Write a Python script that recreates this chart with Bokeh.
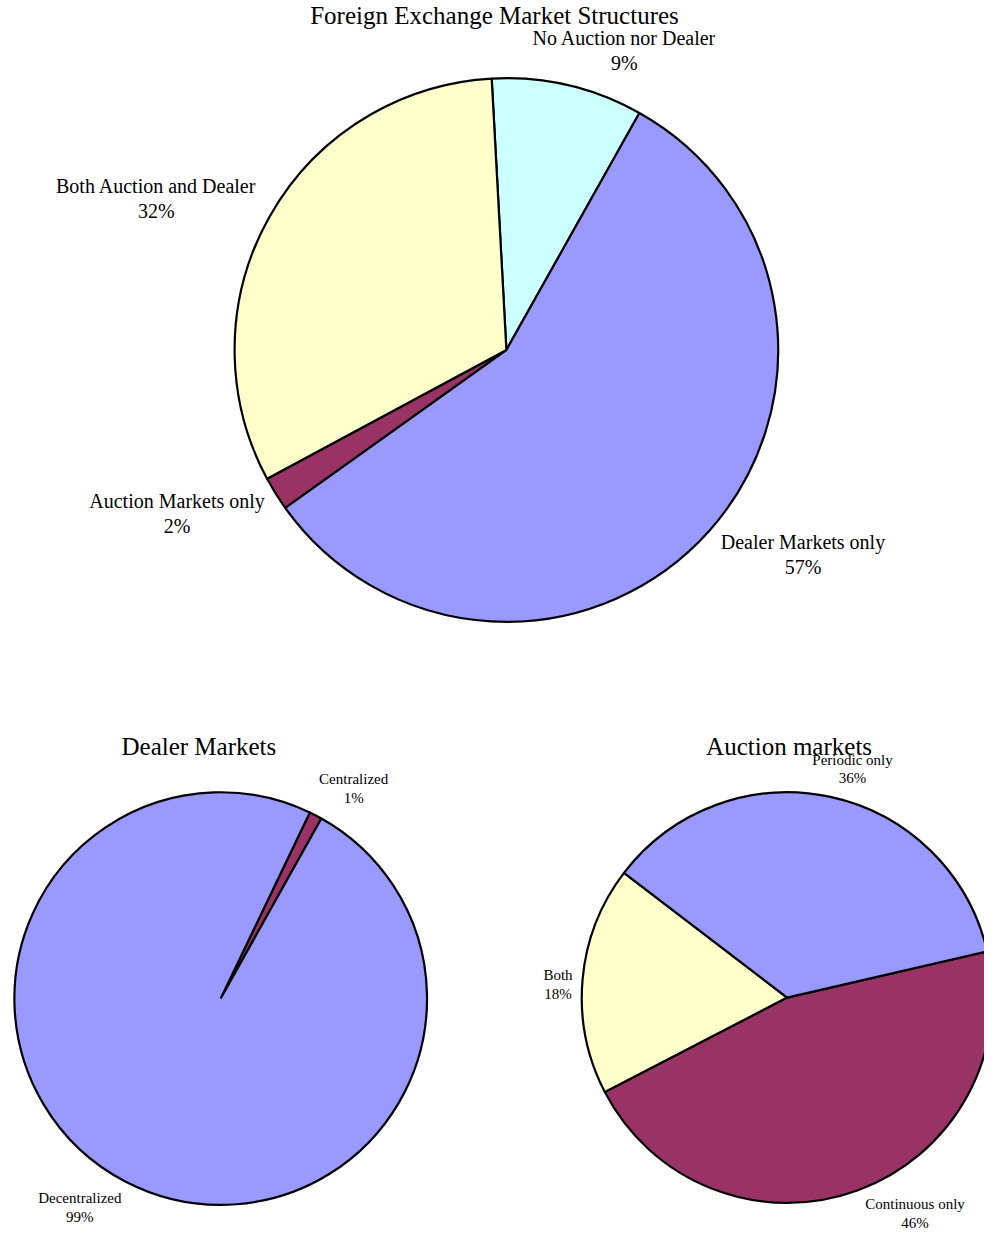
import math
from bokeh.plotting import figure
from bokeh.models import Range1d, ColumnDataSource
from bokeh.core.properties import value
from bokeh.embed import file_html
from bokeh.resources import INLINE

# ---- data ----
main_title = "Foreign Exchange Market Structures"
main_labels = ["No Auction nor Dealer", "Dealer Markets only", "Auction Markets only", "Both Auction and Dealer"]
main_values = [9, 57, 2, 32]
main_colors = ["#CCFFFF", "#9999FF", "#993366", "#FFFFCC"]

dealer_title = "Dealer Markets"
dealer_labels = ["Centralized", "Decentralized"]
dealer_values = [1, 99]
dealer_colors = ["#993366", "#9999FF"]

auction_title = "Auction markets"
auction_labels = ["Continuous only", "Both", "Periodic only"]
auction_values = [46, 18, 36]
auction_colors = ["#993366", "#FFFFCC", "#9999FF"]

W, H = 984, 1234
FONT = "Liberation Serif"

p = figure(width=W, height=H, output_backend="svg", toolbar_location=None,
           x_range=Range1d(0, W), y_range=Range1d(0, H), min_border=0)
p.axis.visible = False
p.grid.visible = False
p.outline_line_color = None

# map reference pixel coordinates (992x1250) onto the 984x1234 canvas
SX = W / 992.0
SY = H / 1250.0


def px(x):
    return x * SX


def py(y):
    return H - y * SY


def pie(cx, cy, r, values, colors, start_cw):
    total = float(sum(values))
    starts, ends = [], []
    a = start_cw
    for v in values:
        b = a + 360.0 * v / total
        starts.append(math.radians(90 - b))
        ends.append(math.radians(90 - a))
        a = b
    src = ColumnDataSource(dict(x=[px(cx)] * len(values), y=[py(cy)] * len(values),
                                s=starts, e=ends, c=colors))
    p.wedge(x="x", y="y", radius=r * SX, start_angle="s", end_angle="e", direction="anticlock",
            fill_color="c", line_color="black", line_width=2.2, source=src)


def label(x, y, lines, size, gap):
    for i, t in enumerate(lines):
        p.text(x=[px(x)], y=[py(y + i * gap)], text=[t], text_font=value(FONT),
               text_font_size=f"{size}px", text_align="center", text_baseline="middle",
               text_color="black")


# main pie
pie(510, 354, 274, main_values, main_colors, -3.1)
label(498, 15, [main_title], 25, 0)
main_pos = [(629, 38), (809, 549), (178, 507), (157, 188)]
for (x, y), name, v in zip(main_pos, main_labels, main_values):
    label(x, y, [name, f"{v}%"], 20, 25)

# dealer pie
pie(222, 1011, 208, dealer_values, dealer_colors, 25.6)
label(200, 756, [dealer_title], 25, 0)
dealer_pos = [(356, 789), (80, 1213)]
for (x, y), name, v in zip(dealer_pos, dealer_labels, dealer_values):
    label(x, y, [name, f"{v}%"], 15, 19)

# auction pie
pie(793, 1010, 207, auction_values, auction_colors, 77)
label(795, 756, [auction_title], 25, 0)
auction_pos = [(922, 1219), (562, 987), (859, 769)]
for (x, y), name, v in zip(auction_pos, auction_labels, auction_values):
    label(x, y, [name, f"{v}%"], 15, 19)

open("out.html", "w").write(file_html(p, INLINE))
